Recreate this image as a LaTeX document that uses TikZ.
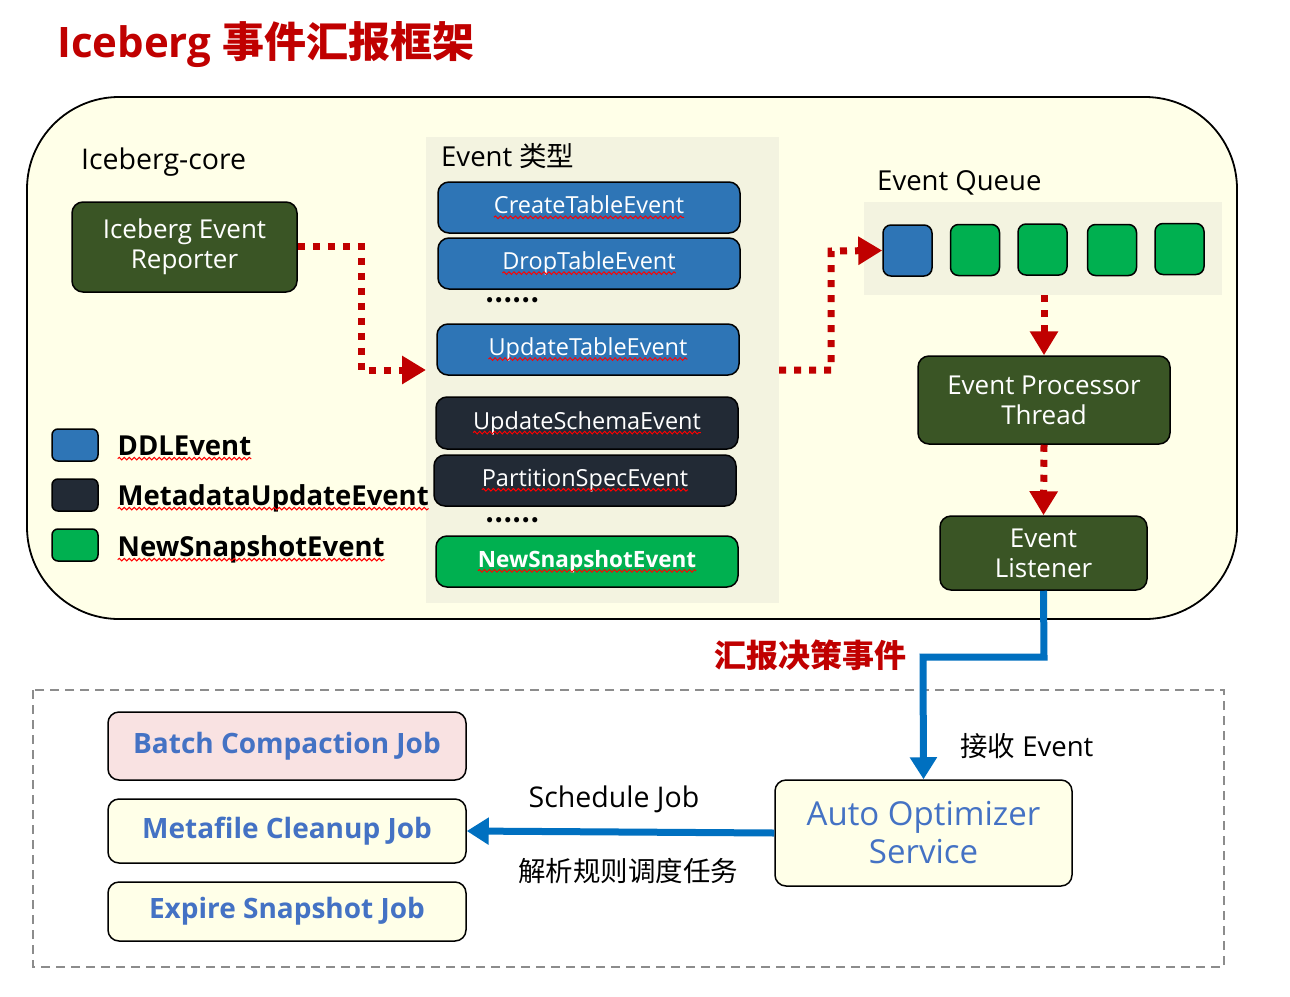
\documentclass[tikz,border=0pt]{standalone}
\usepackage{fontspec}
\setmainfont{Open Sans}
\newfontfamily\cjk{Noto Sans CJK SC}
\usetikzlibrary{arrows.meta,decorations.pathmorphing}
\definecolor{bgy}{HTML}{FFFFE8}
\definecolor{panel}{HTML}{F3F3E0}
\definecolor{dgreen}{HTML}{3A5525}
\definecolor{ddl}{HTML}{2E75B6}
\definecolor{meta}{HTML}{222A35}
\definecolor{snap}{HTML}{00B050}
\definecolor{dred}{HTML}{C00000}
\definecolor{barrow}{HTML}{0070C0}
\definecolor{jobtxt}{HTML}{4472C4}
\definecolor{pink}{HTML}{F9E2E2}
\definecolor{dgray}{HTML}{8C8C8C}
\newcommand\fs[2]{\fontsize{#1}{#2}\selectfont}
\newcommand\wv[1]{\tikz[baseline=(w.base)]{\node[shape=rectangle,inner sep=0pt,outer sep=0pt,minimum width=0pt,minimum height=0pt,draw=none,fill=none,anchor=base](w){#1};\draw[draw=red,fill=none,solid,line width=1pt,rounded corners=0pt,decorate,decoration={snake,amplitude=1.3pt,segment length=5pt}]([yshift=-3.5pt]w.base west)--([yshift=-3.5pt]w.base east);}}
\tikzset{
  box/.style={draw=black,line width=1.5pt,rounded corners=11pt,align=center,inner sep=0pt},
  greenbox/.style={box,fill=dgreen,text=white,font=\fs{26}{30}},
  evbox/.style={box,minimum width=302pt,minimum height=51pt,text=white,font=\fs{23.5}{25}},
  qsq/.style={box,rounded corners=8pt,minimum width=49pt,minimum height=51pt},
  legsq/.style={box,rounded corners=6pt,minimum width=46pt,minimum height=32pt},
  legtxt/.style={anchor=west,font=\bfseries\fs{27.5}{30},inner sep=0pt},
  jobbox/.style={box,minimum width=358pt,text=jobtxt,font=\bfseries\fs{28}{30}},
  redflow/.style={draw=dred,line width=7pt,dash pattern=on 7pt off 8pt,-{Triangle[length=24pt,width=27pt,fill=dred]}},
  blueflow/.style={draw=barrow,line width=7pt,-{Triangle[length=22pt,width=26pt,fill=barrow]}},
  plain/.style={inner sep=0pt,font=\fs{27.5}{30}},
  dotrow/.style={inner sep=0pt,font=\bfseries\fs{24}{26}\cjk},
}
\begin{document}
\begin{tikzpicture}[x=1pt,y=-1pt]
\useasboundingbox[fill=white] (0,0) rectangle (1290,996);
% title
\node[anchor=west,inner sep=0pt,text=dred,font=\bfseries\fs{42}{44}] (title) at (57,45) {Iceberg {\cjk\fs{42}{44}事件汇报框架}};
% big container
\draw[fill=bgy,line width=1.8pt,rounded corners=92pt] (27,97) rectangle (1237,619);
\node[plain,anchor=west,font=\fs{28.5}{30}] (core) at (81,162) {Iceberg-core};
\node[greenbox,minimum width=225pt,minimum height=90pt] (rep) at (184.5,247) {Iceberg Event\\Reporter};
% event type panel
\fill[panel] (426,137) rectangle (779,603);
\node[plain,anchor=west] (etype) at (441,156) {Event {\cjk 类型}};
\node[evbox,fill=ddl] (create) at (589,207.5) {\wv{CreateTableEvent}};
\node[evbox,fill=ddl] (drop) at (589,263.5) {\wv{DropTableEvent}};
\node[dotrow] (dots1) at (512,300) {……};
\node[evbox,fill=ddl] (update) at (588,349.5) {\wv{UpdateTableEvent}};
\node[evbox,fill=meta,minimum height=52pt] (schema) at (587,423) {\wv{UpdateSchemaEvent}};
\node[evbox,fill=meta] (part) at (585,480.5) {\wv{PartitionSpecEvent}};
\node[dotrow] (dots2) at (512,520) {……};
\node[evbox,fill=snap,font=\bfseries\fs{22.5}{25}] (newsnap) at (587,561.5) {\wv{NewSnapshotEvent}};
% legend
\node[legsq,fill=ddl] (l1) at (75,445) {};
\node[legsq,fill=meta] (l2) at (75,495) {};
\node[legsq,fill=snap] (l3) at (75,545) {};
\node[legtxt] (t1) at (117,448) {\wv{DDLEvent}};
\node[legtxt] (t2) at (117,498) {\wv{MetadataUpdateEvent}};
\node[legtxt] (t3) at (117,549) {\wv{NewSnapshotEvent}};
% queue
\node[plain,anchor=west] (eq) at (877,183) {Event Queue};
\fill[panel] (864,202) rectangle (1222,295);
\coordinate (qbot) at (1044,295);
\node[qsq,fill=ddl] (q1) at (907.5,250.5) {};
\node[qsq,fill=snap] (q2) at (975,250) {};
\node[qsq,fill=snap] (q3) at (1042.5,249.5) {};
\node[qsq,fill=snap] (q4) at (1112,250) {};
\node[qsq,fill=snap] (q5) at (1179.5,249) {};
\node[greenbox,minimum width=252pt,minimum height=88pt] (proc) at (1044,400) {Event Processor\\Thread};
\node[greenbox,minimum width=207pt,minimum height=74pt] (lis) at (1043.5,553) {Event\\Listener};
% red flows
\coordinate (pin) at (426,370);
\coordinate (pout) at (779,370);
\draw[redflow] (rep.east |- 0,246) -- (361,246) -- (361,370) -- (pin);
\draw[redflow] (pout) -- (831,370) -- (831,251) -- (q1.west);
\draw[redflow] (qbot) -- (proc.north);
\draw[redflow] (proc.south) -- (lis.north);
% lower part
\node[inner sep=0pt,text=dred,font=\bfseries\fs{32}{34}\cjk] (report) at (810,655) {汇报决策事件};
\draw[dgray,line width=2.5pt,dash pattern=on 9pt off 6pt] (33,690) rectangle (1224,967);
\node[plain,anchor=west] (recv) at (960,746) {{\cjk 接收} Event};
\node[box,fill=bgy,minimum width=297pt,minimum height=106pt,text=jobtxt,font=\fs{33}{38}] (auto) at (923.5,833) {Auto Optimizer\\Service};
\node[jobbox,fill=pink,minimum height=68pt] (batch) at (287,746) {Batch Compaction Job};
\node[jobbox,fill=bgy,minimum height=64pt] (metaf) at (287,831) {Metafile Cleanup Job};
\node[jobbox,fill=bgy,minimum height=59pt] (expire) at (287,911.5) {Expire Snapshot Job};
\draw[blueflow] (lis.south) -- (1044,657) -- (923,657) -- (auto.north);
\draw[blueflow] (auto.west) -- (metaf.east);
\node[plain,font=\fs{28.5}{30}] (sched) at (614,799) {Schedule Job};
\node[plain,font=\fs{27.5}{30}\cjk] (parse) at (628,871) {解析规则调度任务};
\end{tikzpicture}
\end{document}
